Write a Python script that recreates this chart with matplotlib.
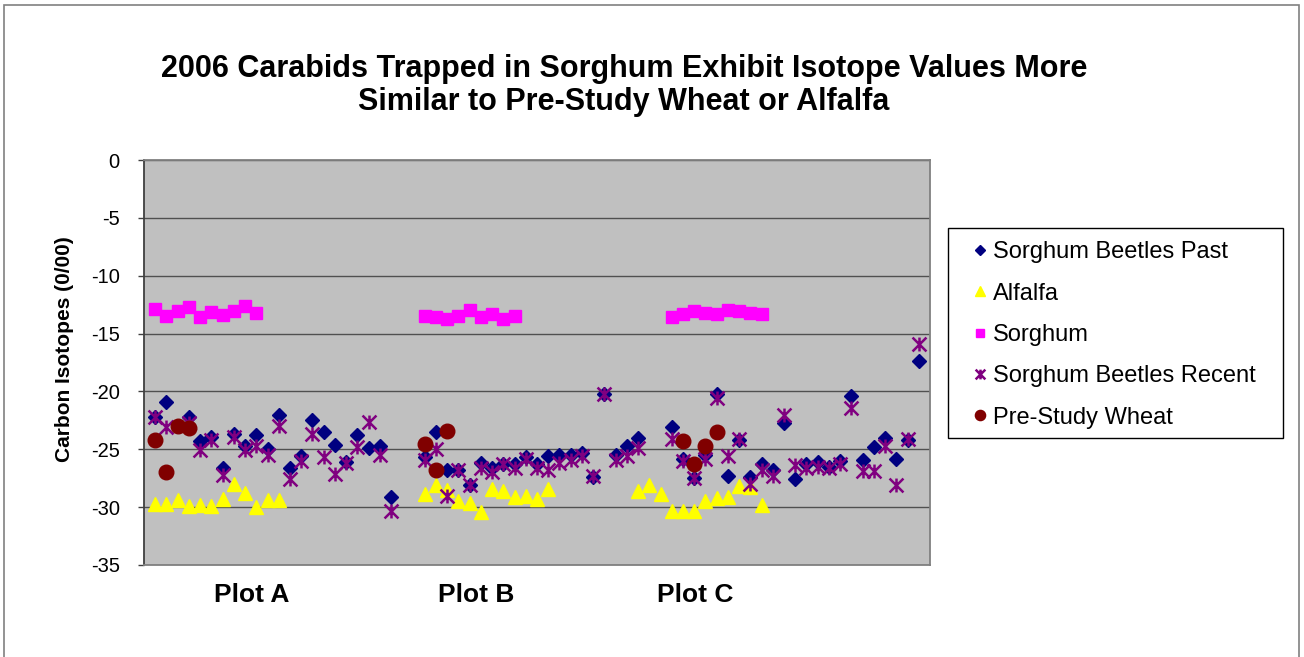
import matplotlib
matplotlib.use("Agg")
import matplotlib.pyplot as plt
from matplotlib.path import Path
import numpy as np

plt.rcParams['font.family'] = ['Liberation Sans', 'DejaVu Sans']
plt.rcParams['axes.unicode_minus'] = False

# sample positions (x) and carbon isotope values (0/00)
past_x = list(range(1, 23)) + list(range(25, 45)) + list(range(47, 70))
past_y = [-22.2, -20.9, np.nan, -22.2, -24.3, -23.9, -26.6, -23.7, -24.7, -23.8, -25.0,
          -22.0, -26.6, -25.6, -22.5, -23.5, -24.6, -26.1, -23.8, -24.9, -24.7, -29.1,
          -25.7, -23.5, -26.8, -26.8, -28.1, -26.2, -26.6, -26.3, -26.3, -25.7,
          -26.3, -25.6, -25.5, -25.5, -25.3, -27.4, -20.2, -25.5, -24.7, -24.0,
          -23.1, -25.8, -27.5, -25.5, -20.2, -27.3, -24.2, -27.4, -26.3, -26.8, -22.7, -27.6,
          -26.3, -26.1, -26.5, -26.0, -20.4, -25.9, -24.8, -24.0, -25.8, -24.2, -17.4]

recent_x = past_x
recent_y = [-22.2, -23.1, np.nan, -22.7, -25.1, -24.2, -27.2, -23.9, -25.1, -24.7, -25.5,
            -23.0, -27.6, -26.0, -23.7, -25.7, -27.1, -26.2, -24.8, -22.6, -25.5, -30.3,
            -25.9, -25.0, -29.0, -26.8, -28.1, -26.6, -27.0, -26.3, -26.6, -25.8,
            -26.6, -26.8, -26.2, -25.9, -25.6, -27.3, -20.2, -25.9, -25.6, -24.9,
            -24.1, -26.0, -27.5, -25.8, -20.6, -25.6, -24.1, -28.0, -26.8, -27.3, -22.0, -26.4,
            -26.6, -26.5, -26.6, -26.3, -21.4, -26.9, -26.9, -24.7, -28.1, -24.1, -15.9]

alfalfa_x = list(range(1, 13)) + list(range(25, 37)) + list(range(44, 56))
alfalfa_y = [-29.7, -29.7, -29.4, -29.9, -29.8, -29.9, -29.3, -28.0, -28.8, -30.0, -29.4, -29.4,
             -28.9, -28.1, -28.5, -29.5, -29.6, -30.4, -28.4, -28.6, -29.1, -29.0, -29.3, -28.4,
             -28.6, -28.1, -28.9, -30.3, -30.3, -30.3, -29.5, -29.2, -29.1, -28.2, -28.3, -29.8]

sorghum_x = list(range(1, 11)) + list(range(25, 34)) + list(range(47, 56))
sorghum_y = [-12.85, -13.5, -13.05, -12.7, -13.55, -13.1, -13.4, -13.05, -12.6, -13.2,
             -13.5, -13.6, -13.7, -13.5, -13.0, -13.55, -13.3, -13.7, -13.5,
             -13.6, -13.3, -13.05, -13.2, -13.3, -13.0, -13.05, -13.2, -13.3]

wheat_x = [1, 2, 3, 4, 25, 26, 27, 48, 49, 50, 51]
wheat_y = [-24.2, -27.0, -23.0, -23.2, -24.5, -26.8, -23.4, -24.3, -26.3, -24.7, -23.5]

plot_names = ["Plot A", "Plot B", "Plot C"]
plot_pos = [9.6, 29.6, 49.1]

W, H = 1304, 657
fig = plt.figure(figsize=(W / 100, H / 100), dpi=100)
ax = fig.add_axes([144 / W, 1 - 565 / H, (930 - 144) / W, (565 - 160) / H])
ax.set_facecolor("#c0c0c0")

star = Path([(0, -1), (0, 1), (-1, -1), (1, 1), (-1, 1), (1, -1)],
            [Path.MOVETO, Path.LINETO] * 3)

ax.plot(past_x, past_y, ls="none", marker="D", ms=6.8, color="#000080",
        mec="#000080", label="Sorghum Beetles Past")
ax.plot(alfalfa_x, alfalfa_y, ls="none", marker="^", ms=10, color="#ffff00",
        mec="#ffff00", label="Alfalfa")
ax.plot(sorghum_x, sorghum_y, ls="none", marker="s", ms=9, color="#ff00ff",
        mec="#ff00ff", label="Sorghum")
ax.plot(recent_x, recent_y, ls="none", marker=star, ms=10, mfc="none",
        mec="#800080", mew=1.8, label="Sorghum Beetles Recent")
ax.plot(wheat_x, wheat_y, ls="none", marker="o", ms=10.5, color="#800000",
        mec="#800000", label="Pre-Study Wheat")

ax.set_xlim(0, 70)
ax.set_ylim(-35, 0)
ax.set_yticks(np.arange(-35, 1, 5))
ax.set_xticks(plot_pos, plot_names)
ax.set_axisbelow(True)
ax.grid(axis="y", color="#505050", lw=1.0)
ax.tick_params(axis="y", direction="out", length=4.5, width=1, color="#404040",
               labelsize=14.5, pad=13)
ax.tick_params(axis="x", length=0, labelsize=19, pad=13)
for lab in ax.get_xticklabels():
    lab.set_fontweight("bold")
for side in ["top", "right", "bottom"]:
    ax.spines[side].set_color("#808080")
    ax.spines[side].set_linewidth(1.3)
ax.spines["left"].set_color("#404040")
ax.spines["left"].set_linewidth(1.3)

fig.text(624 / W, 1 - 77 / H, "2006 Carabids Trapped in Sorghum Exhibit Isotope Values More",
         ha="center", va="baseline", fontsize=22, fontweight="bold")
fig.text(624 / W, 1 - 110 / H, "Similar to Pre-Study Wheat or Alfalfa",
         ha="center", va="baseline", fontsize=22, fontweight="bold")
fig.text(65 / W, 1 - 349 / H, "Carbon Isotopes (0/00)", rotation=90,
         ha="center", va="center", fontsize=15, fontweight="bold")

ax.legend(loc="center left", bbox_to_anchor=(974 / W, 1 - 335 / H),
          bbox_transform=fig.transFigure, frameon=False, fontsize=17,
          handlelength=0.5, handletextpad=0.3, borderpad=0, borderaxespad=0,
          labelspacing=0.82, markerscale=0.7)
fig.patches.append(plt.Rectangle((948 / W, 1 - 438 / H), (1283 - 948) / W, (438 - 228) / H,
                                 transform=fig.transFigure, fill=False,
                                 edgecolor="black", lw=1))
fig.patches.append(plt.Rectangle((4 / W, -0.1), (1299 - 4) / W, 1.1 - 5 / H,
                                 transform=fig.transFigure, fill=False,
                                 edgecolor="#808080", lw=1.2))

plt.savefig("out.png", dpi=100)
